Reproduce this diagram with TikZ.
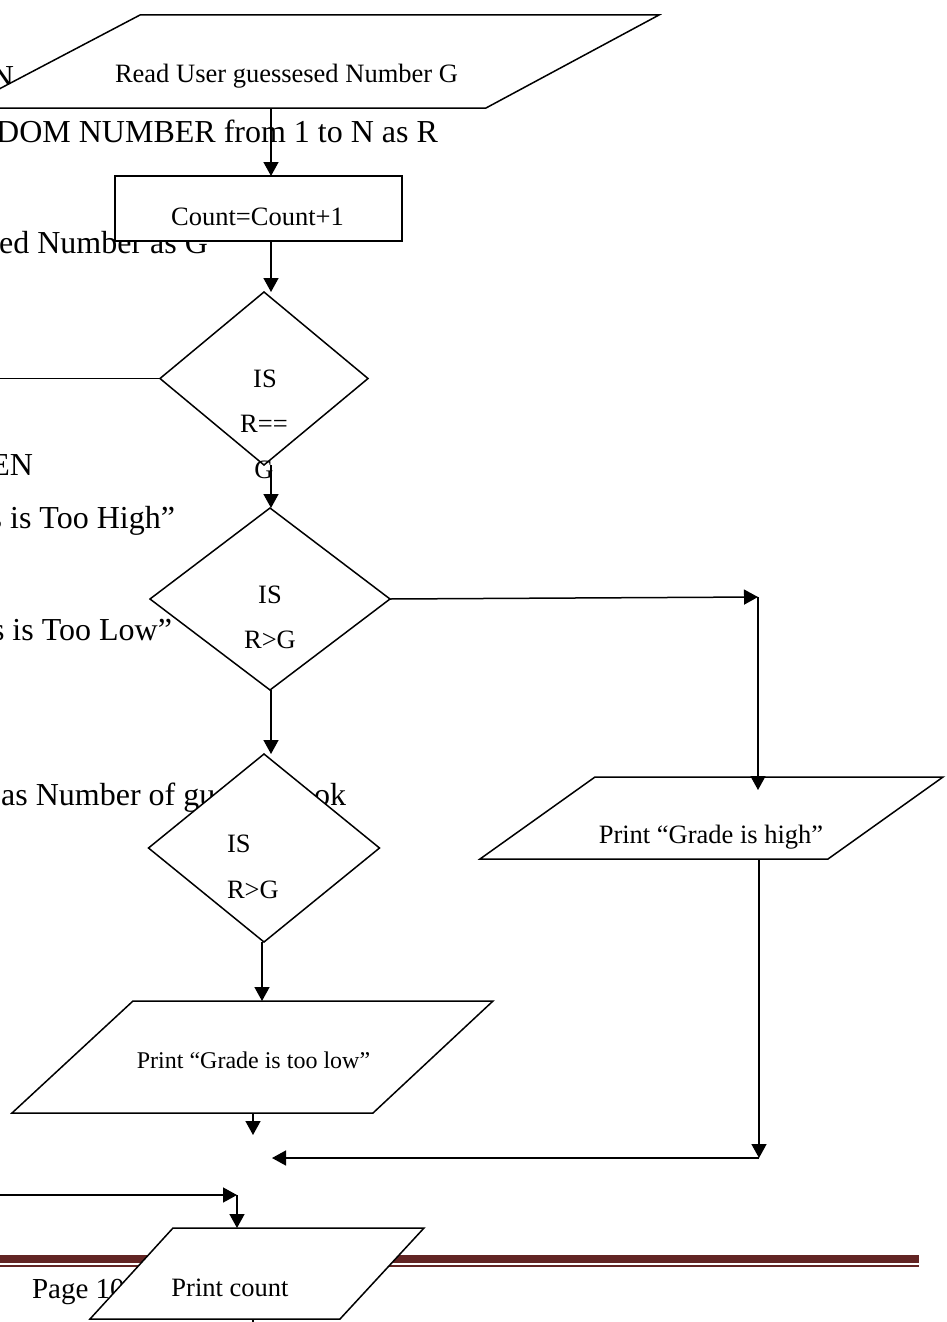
\documentclass[tikz,border=0pt]{standalone}
\usepackage{fontspec}
\setmainfont{Liberation Serif}
\usetikzlibrary{shapes.geometric,arrows.meta}
\definecolor{rulered}{HTML}{622423}
\begin{document}
\begin{tikzpicture}[x=1pt,y=-1pt,
  every node/.style={inner sep=0pt,outer sep=0pt},
  shapeline/.style={draw=black,line width=1.5pt,fill=white},
  decision/.style={shapeline,diamond},
  process/.style={shapeline,rectangle},
  ioframe/.style={rectangle,draw=none,fill=none},
  bodytext/.style={font=\fontsize{32}{38}\selectfont,anchor=base east},
  flowtext/.style={font=\fontsize{26.5}{30}\selectfont,anchor=base},
  arr/.style={line width=1.5pt,-{Triangle[length=14pt,width=15pt]}},
  link/.style={line width=1.5pt}]

\useasboundingbox (0,0) rectangle (946,1322);
\fill[white] (0,0) rectangle (946,1322);
\clip (0,0) rectangle (946,1322);

% page footer rule
\fill[rulered] (0,1255) rectangle (919,1263);
\fill[rulered] (0,1265) rectangle (919,1266.5);

% running text of the page behind the chart
\node[bodytext] (b1) at (14,88) {N};
\node[bodytext] (b2) at (438,142) {DOM NUMBER from 1 to N as R};
\node[bodytext] (b3) at (208,253) {ed Number as G};
\node[bodytext] (b4) at (33,475) {EN};
\node[bodytext] (b5) at (175,528) {s is Too High”};
\node[bodytext] (b6) at (172,640) {s is Too Low”};
\node[bodytext] (b7) at (346,805) {as Number of guesses took};
\node[font=\fontsize{29}{34}\selectfont,anchor=base west] (pg) at (32,1298) {Page 10};

% reference columns and bends
\coordinate (spine) at (271,0);
\coordinate (col2) at (262,0);
\coordinate (col3) at (253,0);
\coordinate (col4) at (237,0);
\coordinate (wleft) at (-5,0);
\coordinate (c1) at (758,597);
\coordinate (c2) at (759,1158);
\coordinate (c3) at (272,1158);
\coordinate (c4) at (237,1195);
\coordinate (lowend) at (253,1135);
\coordinate (inleft) at (-5,1195);
\coordinate (outbottom) at (253,1330);

% input/output parallelograms, each with a frame node spanning its height
\path[shapeline] (140,15) -- (659,15) -- (486,108) -- (-37,108) -- cycle;
\node[ioframe,minimum width=300pt,minimum height=93pt] (rd) at (311,61.5) {};
\path[shapeline] (595,777) -- (943,777) -- (828,859) -- (480,859) -- cycle;
\node[ioframe,minimum width=230pt,minimum height=82pt] (high) at (711.5,818) {};
\path[shapeline] (133,1001) -- (493,1001) -- (373,1113) -- (12,1113) -- cycle;
\node[ioframe,minimum width=240pt,minimum height=112pt] (low) at (252.5,1057) {};
\path[shapeline] (173,1228) -- (424,1228) -- (340,1319) -- (90,1319) -- cycle;
\node[ioframe,minimum width=166pt,minimum height=91pt] (pc) at (257,1273.5) {};

% process box and decisions
\node[process,minimum width=287pt,minimum height=65pt] (cnt) at (258.5,208.5) {};
\node[decision,minimum width=208pt,minimum height=173pt] (d1) at (264,378.5) {};
\node[decision,minimum width=240pt,minimum height=182pt] (d2) at (270,599) {};
\node[decision,minimum width=231pt,minimum height=188pt] (d3) at (264,848) {};

% shape texts
\node[flowtext] (trd) at (286.5,82) {Read User guessesed Number G};
\node[flowtext] (tcnt) at (257.5,225) {Count=Count+1};
\node[flowtext] (td1a) at (265,387) {IS};
\node[flowtext] (td1b) at (264,432) {R==};
\node[flowtext] (td1c) at (264,478) {G};
\node[flowtext] (td2a) at (270,603) {IS};
\node[flowtext] (td2b) at (270,648) {R>G};
\node[flowtext,anchor=base west] (td3a) at (227,852) {IS};
\node[flowtext,anchor=base west] (td3b) at (227,898) {R>G};
\node[flowtext] (thigh) at (711,843) {Print “Grade is high”};
\node[flowtext,font=\fontsize{24}{28}\selectfont] (tlow) at (253.5,1068) {Print “Grade is too low”};
\node[flowtext] (tpc) at (230,1296) {Print count};

% connectors
\draw[arr] (rd.south -| spine) -- (cnt.north -| spine);
\draw[arr] (cnt.south -| spine) -- (d1.north -| spine);
\draw[arr] (d1.south -| spine) -- (d2.north -| spine);
\draw[arr] (d2.south -| spine) -- (d3.north -| spine);
\draw[arr] (d3.south -| col2) -- (low.north -| col2);
\draw[arr] (low.south -| col3) -- (lowend);
\draw[link] (d1.west) -- (d1.west -| wleft);
\draw[arr] (d2.east) -- (c1);
\draw[arr,shorten >=-13pt] (c1) -- (high.north -| c1);
\draw[arr] (high.south -| c2) -- (c2);
\draw[arr] (c2) -- (c3);
\draw[arr] (inleft) -- (c4);
\draw[arr] (c4) -- (pc.north -| col4);
\draw[link] (pc.south -| col3) -- (outbottom);
\end{tikzpicture}
\end{document}
